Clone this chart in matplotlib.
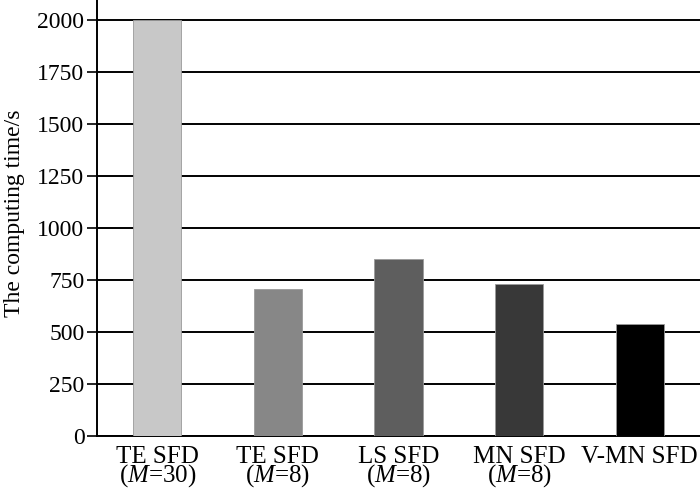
import matplotlib.pyplot as plt

plt.rcParams['font.family'] = 'Liberation Serif'
plt.rcParams['mathtext.fontset'] = 'custom'
plt.rcParams['mathtext.it'] = 'Liberation Serif:italic'
plt.rcParams['mathtext.rm'] = 'Liberation Serif'

# Data
methods = ["TE SFD\n($\\mathit{M}$=30)", "TE SFD\n($\\mathit{M}$=8)", "LS SFD\n($\\mathit{M}$=8)",
           "MN SFD\n($\\mathit{M}$=8)", "V-MN SFD\n "]
times = [2000, 705, 850, 730, 540]
bar_colors = ["#c8c8c8", "#878787", "#5e5e5e", "#383838", "#000000"]

fig = plt.figure(figsize=(7, 4.92), dpi=100)
ax = fig.add_axes([97 / 700, 56 / 492, 603 / 700, 436 / 492])

ax.bar(range(len(times)), times, width=0.4, color=bar_colors, edgecolor="#9a9a9a", linewidth=0.6, zorder=3)

ax.set_xlim(-0.5, len(times) - 0.5)
ax.set_ylim(0, 2096)
ax.set_yticks(range(0, 2001, 250))
ax.yaxis.grid(True, color="black", linewidth=1.4, zorder=0)
ax.set_axisbelow(True)

ax.set_xticks(range(len(times)))
ax.set_xticklabels(methods, fontsize=18, linespacing=0.7)
ax.tick_params(axis="x", length=0, pad=7)
ax.tick_params(axis="y", length=7, width=1.2, labelsize=17, pad=2)

ax.spines["top"].set_visible(False)
ax.spines["right"].set_visible(False)
ax.spines["left"].set_linewidth(1.4)
ax.spines["bottom"].set_linewidth(1.4)

ax.set_ylabel("The computing time/s", fontsize=17, labelpad=9, y=0.51)

fig.savefig("out.png", dpi=100)
